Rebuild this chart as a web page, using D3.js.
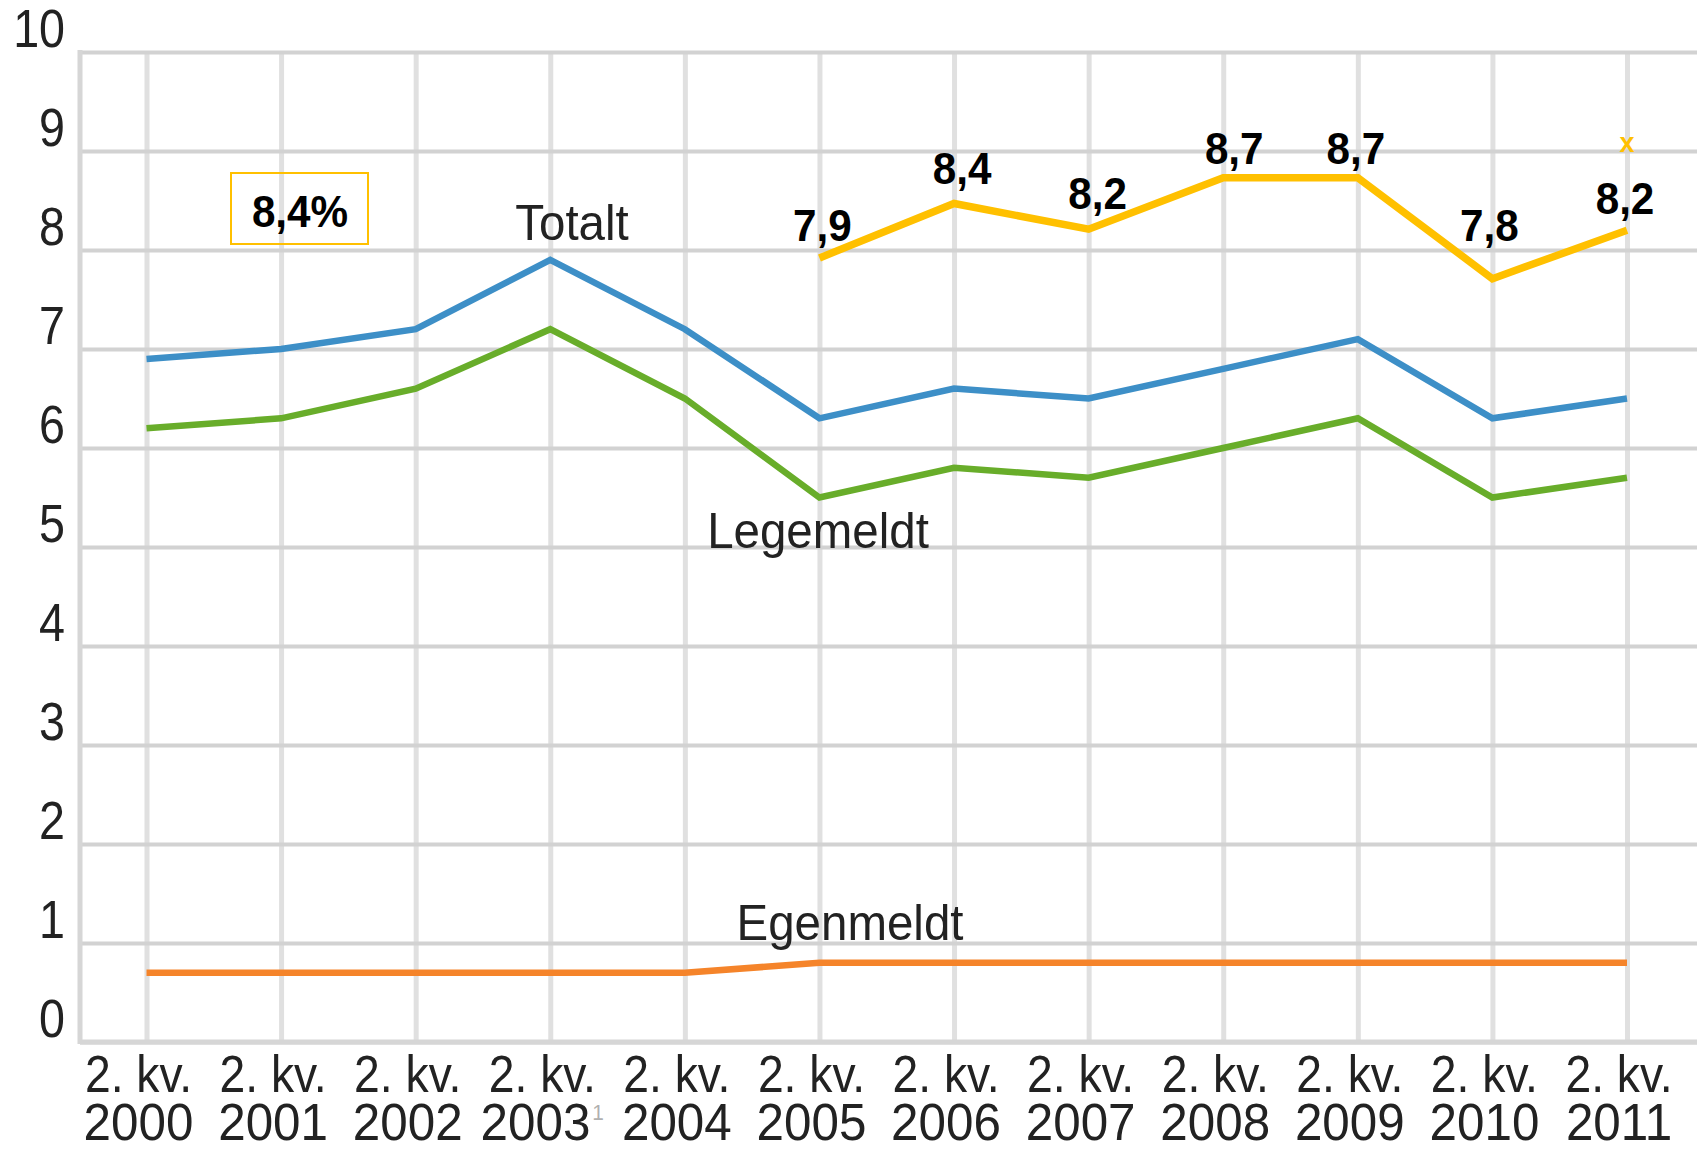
<!DOCTYPE html>
<html>
<head>
<meta charset="utf-8">
<script src="https://cdn.jsdelivr.net/npm/d3@7"></script>
<style>
  html, body { margin: 0; padding: 0; background: #fff; }
  svg { display: block; }
  text { font-family: "Liberation Sans", Arial, sans-serif; }
</style>
</head>
<body>
<svg id="chart" width="1701" height="1151"></svg>
<script>
// ---- data ----
const years = ["2000","2001","2002","2003","2004","2005","2006","2007","2008","2009","2010","2011"];
const quarterLabel = "2. kv.";
const footnotes = {"2003": "1"};
const yTicks = [0,1,2,3,4,5,6,7,8,9,10];

const totalt    = [6.9, 7.0, 7.2, 7.9, 7.2, 6.3, 6.6, 6.5, 6.8, 7.1, 6.3, 6.5];
const legemeldt = [6.2, 6.3, 6.6, 7.2, 6.5, 5.5, 5.8, 5.7, 6.0, 6.3, 5.5, 5.7];
const egenmeldt = [0.7, 0.7, 0.7, 0.7, 0.7, 0.8, 0.8, 0.8, 0.8, 0.8, 0.8, 0.8];

const highYears  = ["2005","2006","2007","2008","2009","2010","2011"];
const highLine   = [7.92, 8.47, 8.21, 8.73, 8.73, 7.71, 8.2];
const highLabels = [7.9, 8.4, 8.2, 8.7, 8.7, 7.8, 8.2];
const boxLabel = "8,4%";

// ---- layout ----
const pLeft = 80, pRight = 1697, pTop = 52, pBottom = 1042;
const svg = d3.select("#chart");
const x = d3.scalePoint().domain(years).range([146.5, 1627]);
const y = d3.scaleLinear().domain([0, 10]).range([pBottom, pTop]);
const fmt = v => d3.format(".1f")(v).replace(".", ",");

function label(parent, str, cx, cy, size, sx, opts = {}) {
  const t = parent.append("text")
    .attr("transform", `translate(${cx},${cy}) scale(${sx},1)`)
    .attr("text-anchor", opts.anchor || "middle")
    .attr("font-size", size)
    .attr("font-weight", opts.weight || "normal")
    .attr("fill", opts.fill || "#222")
    .text(str);
  return t;
}

// vertical grid (x axis)
const gx = svg.append("g").attr("transform", `translate(0,${pBottom})`)
  .call(d3.axisBottom(x).tickSize(-(pBottom - pTop)).tickFormat(""));
gx.select(".domain").remove();
gx.selectAll(".tick line").attr("stroke", "#e0e0e0").attr("stroke-width", 5);

// horizontal grid (y axis)
const gy = svg.append("g").attr("transform", `translate(${pLeft},0)`)
  .call(d3.axisLeft(y).tickValues(yTicks).tickSize(-(pRight - pLeft)).tickFormat(d => d));
gy.select(".domain").remove();
gy.selectAll(".tick line").attr("stroke", "#d2d2d2").attr("stroke-width", 4);
gy.selectAll(".tick text")
  .attr("x", 0).attr("y", 0).attr("dy", 0)
  .attr("transform", "translate(-15,-6) scale(0.88,1)")
  .attr("font-size", 53).attr("fill", "#222")
  .attr("font-family", "Liberation Sans, Arial, sans-serif");

// left axis line and baseline
svg.append("line").attr("x1", pLeft).attr("x2", pLeft).attr("y1", pTop - 2).attr("y2", pBottom + 2)
  .attr("stroke", "#d6d6d6").attr("stroke-width", 5);
svg.append("line").attr("x1", pLeft).attr("x2", pRight).attr("y1", pBottom).attr("y2", pBottom)
  .attr("stroke", "#d6d6d6").attr("stroke-width", 5);

// x labels
const xl = svg.append("g");
years.forEach(yr => {
  const cx = x(yr) - 8;
  label(xl, quarterLabel, cx, 1092, 52, 0.89);
  const t = label(xl, yr, cx, 1140, 52, 0.95);
  if (footnotes[yr]) {
    t.append("tspan").attr("dy", -20).attr("dx", 2).attr("font-size", 22).attr("fill", "#b0b0b0").text(footnotes[yr]);
  }
});

// lines
const line = d3.line().x((d, i) => x(years[i])).y(d => y(d));
function drawSeries(vals, color, w) {
  svg.append("path").datum(vals).attr("d", line)
    .attr("fill", "none").attr("stroke", color).attr("stroke-width", w)
    .attr("stroke-linejoin", "miter");
}
drawSeries(egenmeldt, "#f5842a", 6.5);
drawSeries(legemeldt, "#68ad2a", 6.5);
drawSeries(totalt, "#3d8fc7", 6.5);

const hline = d3.line().x((d, i) => x(highYears[i])).y(d => y(d));
svg.append("path").datum(highLine).attr("d", hline)
  .attr("fill", "none").attr("stroke", "#ffc000").attr("stroke-width", 7.5);

// value labels for high line
const labelOffsets = [[3,-19],[8,-26],[9,-21],[11,-17],[-2,-17],[-3,-29],[-2,-16]];
highLabels.forEach((v, i) => {
  label(svg, fmt(v), x(highYears[i]) + labelOffsets[i][0], y(v) + labelOffsets[i][1],
        44, 0.96, {weight: "bold", fill: "#000"});
});
label(svg, "x", x("2011"), 152, 27, 1, {weight: "bold", fill: "#ffc000"});

// box annotation
svg.append("rect").attr("x", 231).attr("y", 173).attr("width", 137).attr("height", 71)
  .attr("fill", "none").attr("stroke", "#ffc000").attr("stroke-width", 2);
label(svg, boxLabel, 300, 227, 44, 0.96, {weight: "bold", fill: "#000"});

// series names
const names = [["Totalt", 572, 240], ["Legemeldt", 818, 548], ["Egenmeldt", 850, 940]];
names.forEach(([t, cx, cy]) => label(svg, t, cx, cy, 50, 0.95));
</script>
</body>
</html>
